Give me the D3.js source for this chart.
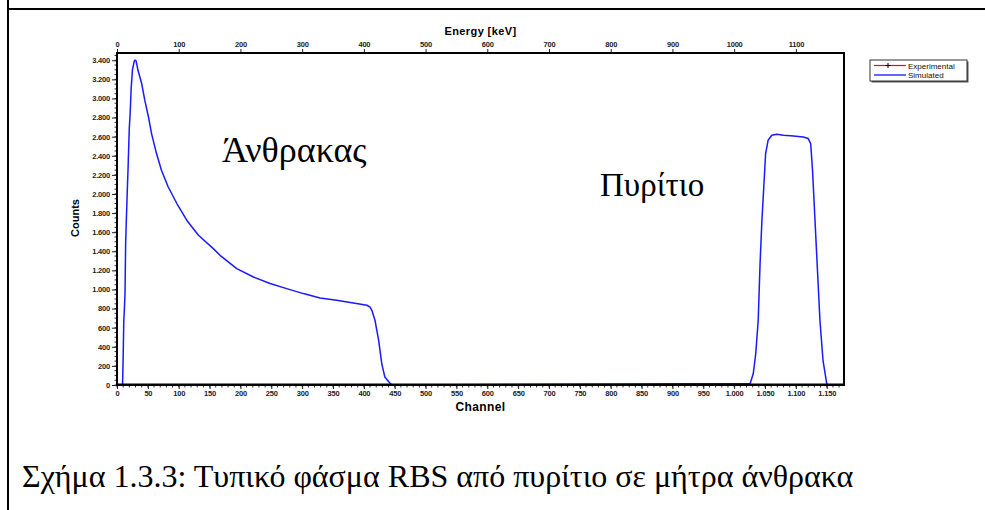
<!DOCTYPE html>
<html>
<head>
<meta charset="utf-8">
<script src="https://cdn.jsdelivr.net/npm/d3@7"></script>
<style>
  body { margin: 0; background: #fff; }
  svg { display: block; }
</style>
</head>
<body>
<svg width="985" height="510"></svg>
<script>
// simulated RBS spectrum (channel, counts)
var simChannel = [0, 9, 10, 11, 12, 13, 14, 15, 16, 17, 18, 19, 20, 21, 22, 23, 24, 25, 26, 27, 28, 29, 30, 31,
    34, 40, 45, 51, 56, 64, 72, 83, 97, 113, 132, 156, 167, 194, 221, 248, 275, 302, 329, 356, 383, 405,
    410, 413, 418, 424, 429, 434, 442, 446,
    1026, 1031, 1035, 1039, 1042, 1045, 1048, 1051, 1055, 1061, 1069, 1080, 1096, 1112, 1120, 1124, 1127,
    1131, 1135, 1139, 1144, 1150, 1151, 1178];
var simCounts = [0, 0, 300, 675, 800, 960, 1480, 1700, 1900, 2100, 2280, 2500, 2700, 2800, 2950, 3115, 3200, 3300, 3330, 3360, 3390, 3400, 3400, 3390,
    3295, 3156, 2982, 2806, 2632, 2423, 2248, 2073, 1900, 1725, 1568, 1428, 1358, 1219, 1131, 1062, 1009, 957, 911, 887, 859, 835,
    815, 782, 678, 468, 224, 84, 21, 0,
    15, 120, 330, 678, 1271, 1725, 2073, 2423, 2562, 2615, 2625, 2615, 2607, 2597, 2580, 2528, 2248,
    1725, 1201, 678, 259, 15, 0, 0];
var expChannel = [];
var expCounts = [];

var yTicks = d3.range(0, 3401, 200);
var chTicks = d3.range(0, 1151, 50);
var keVTicks = d3.range(0, 1101, 100);
var legendNames = ["Experimental", "Simulated"];
var legendColors = ["red", "blue"];

var svg = d3.select("svg");

// page frame (table cell borders)
svg.append("line").attr("x1", 8).attr("x2", 985).attr("y1", 9).attr("y2", 9)
    .attr("stroke", "#000").attr("stroke-width", 2);
svg.append("line").attr("x1", 8).attr("x2", 8).attr("y1", 0).attr("y2", 510)
    .attr("stroke", "#000").attr("stroke-width", 2);

var pL = 117, pR = 844, pT = 53, pB = 385;

var x = d3.scaleLinear().domain([0, 1178]).range([pL, pR]);
var xE = d3.scaleLinear().domain([0, 1178]).range([pL, pR]);
var y = d3.scaleLinear().domain([0, 3476]).range([pB, pT]);

var loc = d3.formatLocale({decimal: ",", thousands: ".", grouping: [3], currency: ["", ""]});
var fmt = loc.format(",d");

var tickFont = "Liberation Sans, Arial, sans-serif";

// minor ticks
var gMinor = svg.append("g");
gMinor.selectAll("line.ym").data(d3.range(0, 3451, 50)).enter().append("line")
    .attr("x1", pL - 2.5).attr("x2", pL)
    .attr("y1", function(d) { return y(d); }).attr("y2", function(d) { return y(d); })
    .attr("stroke", "#333").attr("stroke-width", 1);
gMinor.selectAll("line.xm").data(d3.range(0, 1171, 10)).enter().append("line")
    .attr("x1", function(d) { return x(d); }).attr("x2", function(d) { return x(d); })
    .attr("y1", pB).attr("y2", pB + 2.5)
    .attr("stroke", "#333").attr("stroke-width", 1);

// axes
var yAxis = svg.append("g").attr("transform", "translate(" + pL + ",0)")
    .call(d3.axisLeft(y).tickValues(yTicks).tickFormat(fmt).tickSize(5).tickPadding(2));
var xAxis = svg.append("g").attr("transform", "translate(0," + pB + ")")
    .call(d3.axisBottom(x).tickValues(chTicks).tickFormat(fmt).tickSize(4).tickPadding(2));
var eAxis = svg.append("g").attr("transform", "translate(0," + pT + ")")
    .call(d3.axisTop(xE).tickValues(keVTicks).tickFormat(d3.format("d")).tickSize(4).tickPadding(2));

[yAxis, xAxis, eAxis].forEach(function(a) {
    a.select(".domain").remove();
    a.selectAll("text").attr("font-family", tickFont).attr("font-size", 7.5)
        .attr("fill", "#222").attr("font-weight", "bold").attr("letter-spacing", "-0.2");
    a.selectAll(".tick line").attr("stroke", "#222");
});

// curves
var line = d3.line()
    .x(function(d) { return x(d[0]); })
    .y(function(d) { return y(d[1]); });

svg.append("path")
    .datum(d3.zip(expChannel, expCounts))
    .attr("fill", "none").attr("stroke", "red").attr("stroke-width", 1.2)
    .attr("d", line);

svg.append("path")
    .datum(d3.zip(simChannel, simCounts))
    .attr("fill", "none").attr("stroke", "#1a1aff").attr("stroke-width", 1.5)
    .attr("stroke-linejoin", "round")
    .attr("d", line);

// plot box on top so the zero line hides under the axis
svg.append("rect").attr("x", pL).attr("y", pT)
    .attr("width", pR - pL).attr("height", pB - pT)
    .attr("fill", "none").attr("stroke", "#000").attr("stroke-width", 2);
svg.append("line").attr("x1", pL).attr("x2", pR).attr("y1", pB - 0.3).attr("y2", pB - 0.3)
    .attr("stroke", "#000").attr("stroke-width", 2.4);

// axis titles
svg.append("text").text("Energy [keV]")
    .attr("x", (pL + pR) / 2).attr("y", 35)
    .attr("text-anchor", "middle").attr("font-family", tickFont)
    .attr("font-weight", "bold").attr("font-size", 11).attr("letter-spacing", "0.4");
svg.append("text").text("Channel")
    .attr("x", (pL + pR) / 2).attr("y", 411)
    .attr("text-anchor", "middle").attr("font-family", tickFont)
    .attr("font-weight", "bold").attr("font-size", 12).attr("letter-spacing", "0.4");
svg.append("text").text("Counts")
    .attr("transform", "translate(79,218) rotate(-90)")
    .attr("text-anchor", "middle").attr("font-family", tickFont)
    .attr("font-weight", "bold").attr("font-size", 11);

// in-plot annotations
var serif = "'Liberation Serif', 'Times New Roman', serif";
svg.append("text").text("Άνθρακας")
    .attr("x", 222).attr("y", 162)
    .attr("font-family", serif).attr("font-size", 36);
svg.append("text").text("Πυρίτιο")
    .attr("x", 600).attr("y", 196)
    .attr("font-family", serif).attr("font-size", 33);

// legend
var lg = svg.append("g").attr("transform", "translate(870,60)");
lg.append("rect").attr("x", 1.5).attr("y", 1.5).attr("width", 97).attr("height", 21)
    .attr("fill", "#555");
lg.append("rect").attr("width", 97).attr("height", 21)
    .attr("fill", "#fff").attr("stroke", "#333").attr("stroke-width", 1);
var items = lg.selectAll("g.item").data(legendNames).enter().append("g")
    .attr("transform", function(d, i) { return "translate(0," + (5.5 + i * 9.5) + ")"; });
items.append("line").attr("x1", 4).attr("x2", 36).attr("y1", 0).attr("y2", 0)
    .attr("stroke", function(d, i) { return legendColors[i]; }).attr("stroke-width", 1.2);
items.filter(function(d, i) { return i === 0; }).append("path")
    .attr("d", "M18,-2.5V2.5M15.5,0H20.5").attr("stroke", "#000").attr("stroke-width", 1);
items.append("text").text(function(d) { return d; })
    .attr("x", 38).attr("y", 3)
    .attr("font-family", tickFont).attr("font-size", 8).attr("fill", "#111");

// caption
svg.append("text").text("Σχήμα 1.3.3: Τυπικό φάσμα RBS από πυρίτιο σε μήτρα άνθρακα")
    .attr("x", 22).attr("y", 487)
    .attr("font-family", serif).attr("font-size", 32);
</script>
</body>
</html>
